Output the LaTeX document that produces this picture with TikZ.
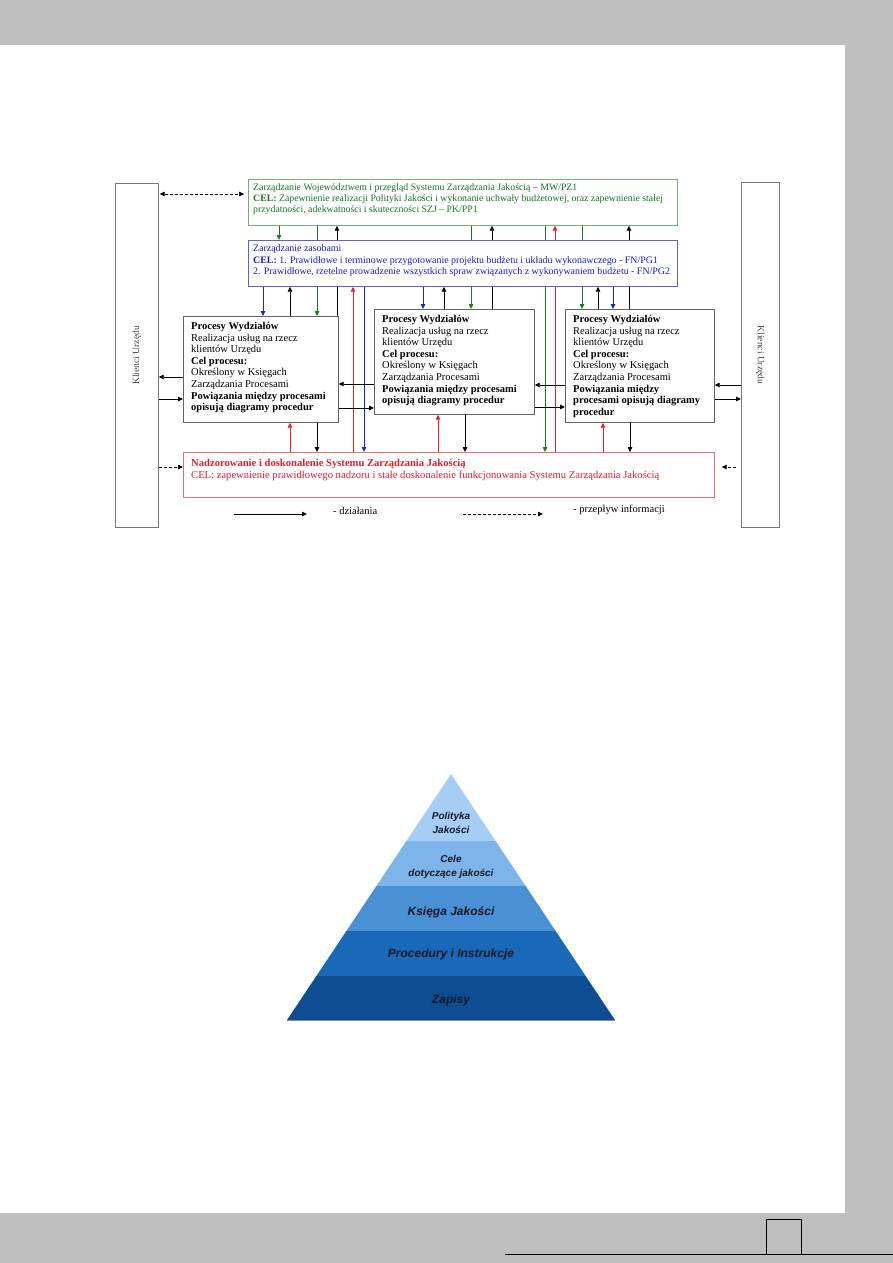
\documentclass[tikz,border=0pt]{standalone}
\usepackage{fontspec}
\setmainfont{Liberation Serif}
\newfontfamily\pyrfont{Liberation Sans}
\usetikzlibrary{arrows.meta}
\definecolor{pagegray}{RGB}{191,191,191}
\definecolor{grnT}{RGB}{25,115,35}
\definecolor{grnB}{RGB}{110,180,110}
\definecolor{grnA}{RGB}{20,125,30}
\definecolor{bluT}{RGB}{25,25,200}
\definecolor{bluB}{RGB}{95,95,215}
\definecolor{bluA}{RGB}{20,40,210}
\definecolor{redT}{RGB}{225,30,45}
\definecolor{redB}{RGB}{230,110,115}
\definecolor{redA}{RGB}{235,30,35}
\definecolor{boxB}{RGB}{100,100,100}
\definecolor{klB}{RGB}{120,120,120}
\definecolor{pyA}{RGB}{166,206,245}
\definecolor{pyB}{RGB}{125,181,234}
\definecolor{pyC}{RGB}{74,144,213}
\definecolor{pyD}{RGB}{26,104,184}
\definecolor{pyE}{RGB}{14,77,147}
\definecolor{pyT}{RGB}{25,25,40}
\begin{document}
\begin{tikzpicture}[x=1pt,y=-1pt,
  box/.style={draw, rectangle, inner sep=0pt, anchor=north west, line width=0.7pt},
  txt/.style={anchor=north west, align=left, inner sep=0pt},
  ptxt/.style={txt, font=\fontsize{10.5}{11.6}\selectfont},
  ln/.style={line width=0.8pt},
  tip/.style={-{Triangle[length=5pt,width=4.5pt]}},
  bothtips/.style={{Triangle[length=5pt,width=4.5pt]}-{Triangle[length=5pt,width=4.5pt]}},
  blk/.style={ln, tip, draw=black},
  grn/.style={ln, tip, draw=grnA},
  blu/.style={ln, tip, draw=bluA},
  rd/.style={ln, tip, draw=redA},
  dsh/.style={line width=0.7pt, dash pattern=on 3pt off 2pt, draw=black},
  pyr/.style={font=\pyrfont\bfseries\itshape\fontsize{12}{14}\selectfont, text=pyT, align=center, inner sep=0pt},
  pyrs/.style={pyr, font=\pyrfont\bfseries\itshape\fontsize{10}{14}\selectfont}
]
\useasboundingbox (0,0) rectangle (893,1263);
% page frame
\fill[pagegray] (0,0) rectangle (893,45);
\fill[pagegray] (845,45) rectangle (893,1263);
\fill[pagegray] (0,1213) rectangle (893,1263);
\draw[line width=0.9pt] (505,1254) -- (893,1254);
\draw[line width=0.9pt] (766,1254) -- (766,1219) -- (801,1219) -- (801,1254);

% x positions of vertical connectors
\foreach \xx in {263,279,290,317,337,353,364,423,438,444,465,471,492,545,555,582,598,603,613,629,630}
  {\coordinate (c\xx) at (\xx,0);}
\foreach \yy in {194,377,384,385,399,407,408,467}
  {\coordinate (r\yy) at (0,\yy);}

% nodes
\node[box, draw=klB, minimum width=43pt, minimum height=344pt] (kl) at (115,183) {};
\node[box, draw=klB, minimum width=38pt, minimum height=345pt] (kr) at (741,182) {};
\node[rotate=90, font=\fontsize{9.5}{11}\selectfont, text=black!75] (klt) at (kl.center) {Klienci Urzędu};
\node[rotate=-90, font=\fontsize{9.5}{11}\selectfont, text=black!75] (krt) at (kr.center) {Klienci Urzędu};

\node[box, draw=grnB, fill=white, minimum width=429pt, minimum height=46pt] (zw) at (248,179) {};
\node[box, draw=boxB, fill=white, minimum width=155pt, minimum height=106pt] (p1) at (183,316) {};
\node[box, draw=boxB, fill=white, minimum width=160pt, minimum height=105pt] (p2) at (374,309) {};
\node[box, draw=boxB, fill=white, minimum width=149pt, minimum height=113pt] (p3) at (565,309) {};
\node[box, draw=redB, fill=white, minimum width=531pt, minimum height=45pt] (nd) at (183,452) {};

% connectors passing behind the resources box
\draw[grn] (zw.south -| c317) -- (p1.north -| c317);
\draw[blk] (p1.north -| c337) -- (zw.south -| c337);
\draw[grn] (zw.south -| c471) -- (p2.north -| c471);
\draw[blk] (p2.north -| c492) -- (zw.south -| c492);
\draw[grn] (zw.south -| c545) -- (nd.north -| c545);
\draw[rd]  (nd.north -| c555) -- (zw.south -| c555);
\draw[grn] (zw.south -| c582) -- (p3.north -| c582);
\draw[blk] (p3.north -| c629) -- (zw.south -| c629);

\node[box, draw=bluB, fill=white, minimum width=429pt, minimum height=46pt] (zz) at (248,240) {};

% texts of the boxes
\node[txt, text=grnT, font=\fontsize{9.8}{11.2}\selectfont] (zwt) at (253,183.5)
  {Zarządzanie Województwem i przegląd Systemu Zarządzania Jakością – MW/PZ1\\
   \textbf{CEL:} Zapewnienie realizacji Polityki Jakości i wykonanie uchwały budżetowej, oraz zapewnienie stałej\\
   przydatności, adekwatności i skuteczności SZJ – PK/PP1};
\node[txt, text=bluT, font=\fontsize{9.9}{11.5}\selectfont] (zzt) at (253,244.5)
  {Zarządzanie zasobami\\
   \textbf{CEL:} 1. Prawidłowe i terminowe przygotowanie projektu budżetu i układu wykonawczego - FN/PG1\\
   2. Prawidłowe, rzetelne prowadzenie wszystkich spraw związanych z wykonywaniem budżetu - FN/PG2};
\node[txt, text=redT, font=\fontsize{10.6}{12}\selectfont] (ndt) at (191,458.5)
  {\textbf{Nadzorowanie i doskonalenie Systemu Zarządzania Jakością}\\
   CEL: zapewnienie prawidłowego nadzoru i stałe doskonalenie funkcjonowania Systemu Zarządzania Jakością};
\node[ptxt] (p1t) at (191,322)
  {\textbf{Procesy Wydziałów}\\ Realizacja usług na rzecz\\ klientów Urzędu\\ \textbf{Cel procesu:}\\
   Określony w Księgach\\ Zarządzania Procesami\\ \textbf{Powiązania między procesami}\\ \textbf{opisują diagramy procedur}};
\node[ptxt] (p2t) at (382,315)
  {\textbf{Procesy Wydziałów}\\ Realizacja usług na rzecz\\ klientów Urzędu\\ \textbf{Cel procesu:}\\
   Określony w Księgach\\ Zarządzania Procesami\\ \textbf{Powiązania między procesami}\\ \textbf{opisują diagramy procedur}};
\node[ptxt] (p3t) at (573,315)
  {\textbf{Procesy Wydziałów}\\ Realizacja usług na rzecz\\ klientów Urzędu\\ \textbf{Cel procesu:}\\
   Określony w Księgach\\ Zarządzania Procesami\\ \textbf{Powiązania między}\\ \textbf{procesami opisują diagramy}\\ \textbf{procedur}};

% green box <-> resources box
\draw[grn] (zw.south -| c279) -- (zz.north -| c279);
% resources box <-> process boxes
\draw[blu] (zz.south -| c263) -- (p1.north -| c263);
\draw[blk] (p1.north -| c290) -- (zz.south -| c290);
\draw[blu] (zz.south -| c423) -- (p2.north -| c423);
\draw[blk] (p2.north -| c444) -- (zz.south -| c444);
\draw[blk] (p3.north -| c598) -- (zz.south -| c598);
\draw[blu] (zz.south -| c613) -- (p3.north -| c613);
% resources box <-> supervision box
\draw[rd]  (nd.north -| c353) -- (zz.south -| c353);
\draw[blu] (zz.south -| c364) -- (nd.north -| c364);
% process boxes <-> supervision box
\draw[rd]  (nd.north -| c290) -- (p1.south -| c290);
\draw[blk] (p1.south -| c317) -- (nd.north -| c317);
\draw[rd]  (nd.north -| c438) -- (p2.south -| c438);
\draw[blk] (p2.south -| c465) -- (nd.north -| c465);
\draw[rd]  (nd.north -| c603) -- (p3.south -| c603);
\draw[blk] (p3.south -| c630) -- (nd.north -| c630);
% horizontal connectors
\draw[blk] (p1.west |- r377) -- (kl.east |- r377);
\draw[blk] (kl.east |- r399) -- (p1.west |- r399);
\draw[blk] (p2.west |- r384) -- (p1.east |- r384);
\draw[blk] (p1.east |- r408) -- (p2.west |- r408);
\draw[blk] (p3.west |- r385) -- (p2.east |- r385);
\draw[blk] (p2.east |- r407) -- (p3.west |- r407);
\draw[blk] (kr.west |- r385) -- (p3.east |- r385);
\draw[blk] (p3.east |- r399) -- (kr.west |- r399);
% information flow
\draw[dsh, bothtips, shorten <=1pt, shorten >=4pt] (kl.east |- r194) -- (zw.west |- r194);
\draw[dsh, tip] (kl.east |- r467) -- (nd.west |- r467);
\draw[dsh, tip, shorten <=5pt, shorten >=7pt] (kr.west |- r467) -- (nd.east |- r467);

% legend
\coordinate (la) at (234,514);
\coordinate (lb) at (307,514);
\coordinate (lc) at (463,514);
\coordinate (ld) at (543,514);
\draw[blk] (la) -- (lb);
\draw[dsh, tip] (lc) -- (ld);
\node[anchor=west, inner sep=0pt, font=\fontsize{10.5}{12}\selectfont] (l1) at (333,511) {- działania};
\node[anchor=west, inner sep=0pt, font=\fontsize{10.5}{12}\selectfont] (l2) at (573,510) {- przepływ informacji};

% pyramid
\begin{scope}
  \clip (451,774) -- (615,1020) -- (287,1020) -- cycle;
  \fill[pyA] (280,770) rectangle (620,841);
  \fill[pyB] (280,841) rectangle (620,886);
  \fill[pyC] (280,886) rectangle (620,931);
  \fill[pyD] (280,931) rectangle (620,976);
  \fill[pyE] (280,976) rectangle (620,1021);
\end{scope}
\draw[black!45, line width=0.6pt] (287,1020) -- (615,1020);
\node[pyrs] (y1) at (451,823) {Polityka\\Jakości};
\node[pyrs] (y2) at (451,866.5) {Cele\\dotyczące jakości};
\node[pyr] (y3) at (451,912) {Księga Jakości};
\node[pyr] (y4) at (451,954.5) {Procedury i Instrukcje};
\node[pyr] (y5) at (451,1000) {Zapisy};
\end{tikzpicture}
\end{document}
